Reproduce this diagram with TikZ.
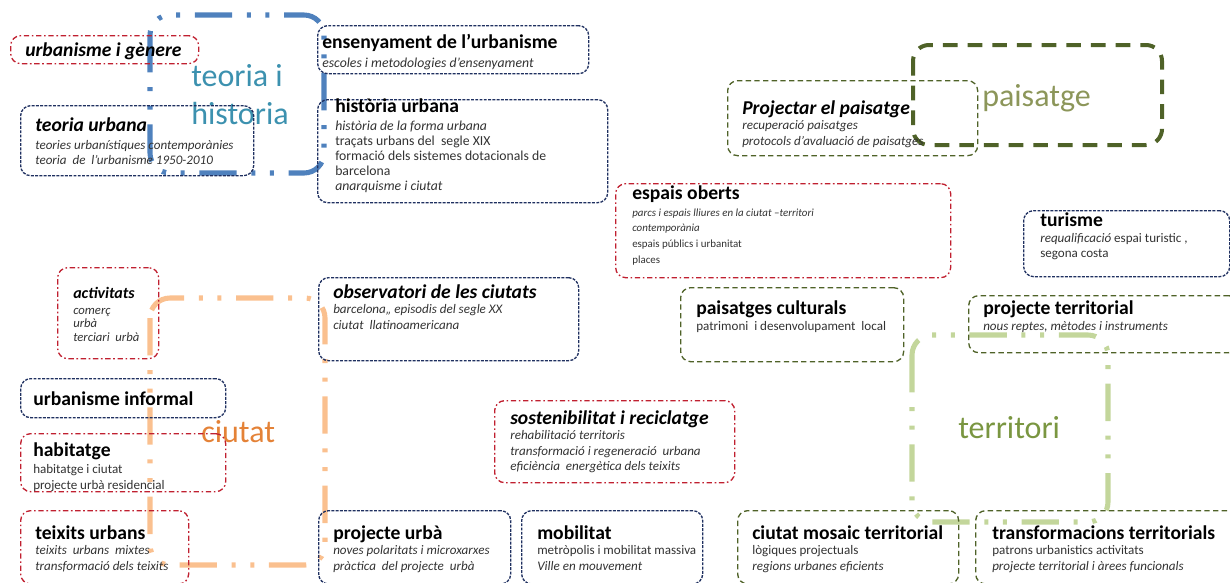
\documentclass[tikz,border=0pt]{standalone}
\usepackage{fontspec}
\setmainfont{Carlito}
\definecolor{navy}{RGB}{31,48,96}
\definecolor{boxred}{RGB}{192,32,48}
\definecolor{olive}{RGB}{79,98,40}
\definecolor{subgray}{RGB}{50,50,50}
\definecolor{loopblue}{RGB}{79,129,189}
\definecolor{looporange}{RGB}{250,192,143}
\definecolor{loopgreen}{RGB}{195,214,155}
\definecolor{teal}{RGB}{60,145,175}
\definecolor{paislab}{RGB}{140,150,90}
\definecolor{ciulab}{RGB}{228,130,55}
\definecolor{terlab}{RGB}{122,150,65}
\newcommand\hdfont{\fontsize{14.7}{16}\selectfont\bfseries}
\newcommand\subfont{\fontsize{9.8}{11.4}\selectfont}
\newcommand\bigfont{\fontsize{24}{29}\selectfont}
\tikzset{
  topic/.style={anchor=north west, rounded corners=7.5pt, line width=1pt, inner sep=0pt},
  navybox/.style={topic, draw=navy, dash pattern=on 2.2pt off 1pt},
  redbox/.style={topic, draw=boxred, dash pattern=on 4pt off 2pt on 1.2pt off 2pt},
  olivebox/.style={topic, draw=olive, dash pattern=on 4pt off 2.5pt},
  txt/.style={anchor=north west, align=left, inner sep=0pt, text=subgray, font=\subfont},
  grouploop/.style={line width=3.8pt, rounded corners=15pt,
    dash pattern=on 28pt off 11pt on 3pt off 11pt on 3pt off 11pt},
  grouplabel/.style={anchor=base west, align=left, inner sep=0pt, font=\bigfont}
}
\begin{document}
\begin{tikzpicture}[x=0.75pt,y=-0.75pt]
\clip (0,0) rectangle (1230,582);
% group loops
\draw[grouploop, draw=loopblue] (150,15) rectangle (324,173);
\draw[grouploop, draw=looporange] (150,298) rectangle (325,565);
\draw[grouploop, draw=loopgreen] (912,335) rectangle (1108,522);
\draw[line width=3pt, rounded corners=12pt, draw=olive, dash pattern=on 11pt off 7.5pt] (913,45) rectangle (1162,145);
\node[grouplabel, anchor=north west, text=teal] (teohist) at (191,64) {teoria i\\historia};
\node[grouplabel, text=paislab] (paisatge) at (982,106) {paisatge};
\node[grouplabel, text=ciulab] (ciutat) at (201,442) {ciutat};
\node[grouplabel, text=terlab] (territori) at (958,438) {territori};
% boxes
\node[redbox, minimum width=141pt, minimum height=21pt] (urbgen) at (10,35) {};
\node[navybox, minimum width=174.75pt, minimum height=52.5pt] (teourb) at (20,105) {};
\node[navybox, minimum width=203.25pt, minimum height=36pt] (ens) at (317,25) {};
\node[navybox, minimum width=217.5pt, minimum height=77.25pt] (hist) at (317,99) {};
\node[olivebox, minimum width=187.5pt, minimum height=56.25pt] (projp) at (727,80) {};
\node[redbox, minimum width=251.25pt, minimum height=70.5pt] (espais) at (615,183) {};
\node[navybox, minimum width=154.5pt, minimum height=49.5pt] (turisme) at (1023,210) {};
\node[redbox, minimum width=75.75pt, minimum height=68.25pt] (activ) at (57,267) {};
\node[navybox, minimum width=195pt, minimum height=62.25pt] (observ) at (318,277) {};
\node[olivebox, minimum width=167.25pt, minimum height=55.5pt] (paiscult) at (680,287) {};
\node[olivebox, minimum width=202.5pt, minimum height=42.75pt] (projterr) at (968,295) {};
\node[navybox, minimum width=153.75pt, minimum height=29.25pt] (urbinf) at (20,378) {};
\node[redbox, minimum width=153.75pt, minimum height=43.5pt] (habit) at (20,433) {};
\node[redbox, minimum width=180pt, minimum height=61.5pt] (sosten) at (494,400) {};
\node[redbox, minimum width=126pt, minimum height=55pt] (teix) at (20,510) {};
\node[navybox, minimum width=144pt, minimum height=55pt] (projurb) at (318,510) {};
\node[navybox, minimum width=135.75pt, minimum height=55pt] (mobil) at (521,510) {};
\node[olivebox, minimum width=165.75pt, minimum height=55pt] (mosaic) at (737,510) {};
\node[olivebox, minimum width=202.5pt, minimum height=55pt] (transf) at (975,510) {};
% texts
\node[txt] (urbgen-t) at ([shift={(15,7)}]urbgen.north west) {{\hdfont\itshape\color{black}urbanisme i gènere}};
\node[txt] (teourb-t) at ([shift={(15,12)}]teourb.north west) {{\hdfont\itshape\color{black}teoria urbana}\\[2.5pt]
  \textit{teories urbanístiques contemporànies}\\ \textit{teoria\ \ de\ \ l’urbanisme 1950-2010}};
\node[txt, font=\fontsize{10.3}{11.4}\selectfont] (ens-t) at ([shift={(5,9)}]ens.north west) {{\hdfont\color{black}ensenyament de l’urbanisme}\\[2.5pt]
  \textit{escoles i metodologies d’ensenyament}};
\node[txt, font=\fontsize{10.3}{11.2}\selectfont] (hist-t) at ([shift={(18,-1)}]hist.north west) {{\hdfont\color{black}història urbana}\\[3pt]
  \textit{història de la forma urbana}\\ traçats urbans del\ \ segle XIX\\ formació dels sistemes dotacionals de\\ barcelona\\ \textit{anarquisme i ciutat}};
\node[txt] (projp-t) at ([shift={(15,20)}]projp.north west) {{\hdfont\itshape\color{black}Projectar el paisatge}\\[0.5pt]
  \textit{recuperació paisatges}\\ \textit{protocols d’avaluació de paisatges}};
\node[txt, font=\fontsize{8.2}{11.8}\selectfont] (espais-t) at ([shift={(17,2)}]espais.north west) {{\hdfont\color{black}espais oberts}\\[1pt]
  \textit{parcs i espais lliures en la ciutat –territori}\\ \textit{contemporània}\\ espais públics i urbanitat\\ places};
\node[txt] (turisme-t) at ([shift={(17,2)}]turisme.north west) {{\hdfont\color{black}turisme}\\[1pt]
  \textit{requalificació} espai turistic ,\\ segona costa};
\node[txt, font=\fontsize{9.5}{10}\selectfont] (activ-t) at ([shift={(16,20)}]activ.north west) {{\fontsize{12}{13}\selectfont\bfseries\itshape\color{black}activitats}\\[2pt]
  \textit{comerç}\\ \textit{urbà}\\ \textit{terciari\ \ urbà}};
\node[txt] (observ-t) at ([shift={(15,7)}]observ.north west) {{\hdfont\itshape\color{black}observatori de les ciutats}\\[0.5pt]
  \textit{barcelona,, episodis del segle XX}\\ \textit{ciutat\ \ llatinoamericana}};
\node[txt] (paiscult-t) at ([shift={(16,13)}]paiscult.north west) {{\hdfont\color{black}paisatges culturals}\\[1pt]
  patrimoni\ \ i desenvolupament\ \ local};
\node[txt] (projterr-t) at ([shift={(15,5)}]projterr.north west) {{\hdfont\color{black}projecte territorial}\\[1pt]
  \textit{nous reptes, mètodes i instruments}};
\node[txt] (urbinf-t) at ([shift={(13,13)}]urbinf.north west) {{\hdfont\color{black}urbanisme informal}};
\node[txt] (habit-t) at ([shift={(13,9)}]habit.north west) {{\hdfont\color{black}habitatge}\\[2pt]
  habitatge i ciutat\\ projecte urbà residencial};
\node[txt] (sosten-t) at ([shift={(16,10)}]sosten.north west) {{\hdfont\itshape\color{black}sostenibilitat i reciclatge}\\[0.5pt]
  \textit{rehabilitació territoris}\\ \textit{transformació i regeneració\ \ urbana}\\ \textit{eficiència\ \ energètica dels teixits}};
\node[txt] (teix-t) at ([shift={(15,15)}]teix.north west) {{\hdfont\color{black}teixits urbans}\\[0.5pt]
  \textit{teixits\ \ urbans\ \ mixtes}\\ \textit{transformació dels teixits}};
\node[txt] (projurb-t) at ([shift={(15,15)}]projurb.north west) {{\hdfont\color{black}projecte urbà}\\[0.5pt]
  \textit{noves polaritats i microxarxes}\\ \textit{pràctica\ \ del projecte\ \ urbà}};
\node[txt] (mobil-t) at ([shift={(16,15)}]mobil.north west) {{\hdfont\color{black}mobilitat}\\[0.5pt]
  metròpolis i mobilitat massiva\\ \textit{Ville en mouvement}};
\node[txt] (mosaic-t) at ([shift={(15,15)}]mosaic.north west) {{\hdfont\color{black}ciutat mosaic territorial}\\[0.5pt]
  lògiques projectuals\\ \textit{regions urbanes eficients}};
\node[txt] (transf-t) at ([shift={(17,15)}]transf.north west) {{\hdfont\color{black}transformacions territorials}\\[0.5pt]
  patrons urbanistics activitats\\ \textit{projecte territorial i àrees funcionals}};
\end{tikzpicture}
\end{document}
